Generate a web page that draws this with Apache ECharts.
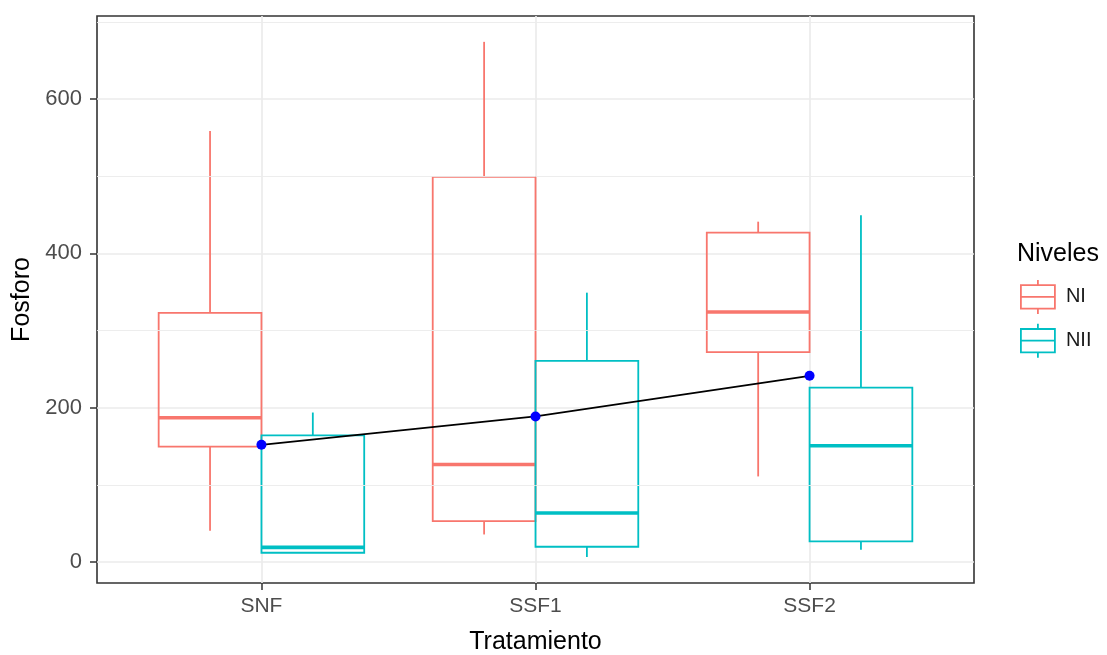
<!DOCTYPE html>
<html>
<head>
<meta charset="utf-8">
<script src="https://cdn.jsdelivr.net/npm/echarts@6/dist/echarts.min.js"></script>
<style>
  html, body { margin: 0; padding: 0; background: #fff; }
  #grafico { width: 1107px; height: 655px; }
</style>
</head>
<body>
<div id="grafico"></div>
<script>
// categorias del eje x
var categorias = ["SNF", "SSF1", "SSF2"];

// nivel NI (min, q1, mediana, q3, max)
var niMin = [40.5, 35.7, 110.9];
var niQ1 = [149.5, 53, 272];
var niMed = [187, 126.4, 324];
var niQ3 = [322.8, 499, 426.8];
var niMax = [558.5, 674, 441];

// nivel NII
var niiMin = [12, 6.5, 16];
var niiQ1 = [12, 19.8, 26.7];
var niiMed = [19, 63.5, 150.6];
var niiQ3 = [164, 260.6, 226];
var niiMax = [193.7, 349, 449.4];

// linea de medias
var medias = [151.9, 188.6, 241.3];

var yTicks = [0, 200, 400, 600];
var yMenores = [100, 300, 500, 700];

var colorNI = "#F8766D";
var colorNII = "#00BFC4";
var fuente = "Liberation Sans, Arial, sans-serif";

function armarCajas(mins, q1s, meds, q3s, maxs) {
  return categorias.map(function (c, i) {
    return [i + 1, mins[i], q1s[i], meds[i], q3s[i], maxs[i]];
  });
}

function dibujarCaja(desplazamiento, color) {
  var medio = 0.1875;
  return function (params, api) {
    var x = api.value(0) + desplazamiento;
    var pMin = api.coord([x, api.value(1)]);
    var pQ1 = api.coord([x, api.value(2)]);
    var pMed = api.coord([x, api.value(3)]);
    var pQ3 = api.coord([x, api.value(4)]);
    var pMax = api.coord([x, api.value(5)]);
    var izq = api.coord([x - medio, 0])[0];
    var der = api.coord([x + medio, 0])[0];
    var estilo = { stroke: color, lineWidth: 1.8, fill: null };
    return {
      type: "group",
      children: [
        { type: "line", shape: { x1: pMin[0], y1: pMin[1], x2: pQ1[0], y2: pQ1[1] }, style: estilo },
        { type: "line", shape: { x1: pQ3[0], y1: pQ3[1], x2: pMax[0], y2: pMax[1] }, style: estilo },
        { type: "rect", shape: { x: izq, y: pQ3[1], width: der - izq, height: pQ1[1] - pQ3[1] }, style: estilo },
        { type: "line", shape: { x1: izq, y1: pMed[1], x2: der, y2: pMed[1] }, style: { stroke: color, lineWidth: 3.6 } }
      ]
    };
  };
}

var iconoCaja = "path://M17,0 L17,5.3 M0,5.3 L34,5.3 L34,28.7 L0,28.7 Z M0,17 L34,17 M17,28.7 L17,34";

var grafico = echarts.init(document.getElementById("grafico"));

var option = {
  animation: false,
  textStyle: { fontFamily: fuente },
  title: {
    text: "Niveles",
    left: 1017,
    top: 242,
    padding: 0,
    textStyle: { fontFamily: fuente, fontSize: 25, fontWeight: "normal", color: "#000" }
  },
  legend: {
    orient: "vertical",
    left: 1020,
    top: 279,
    padding: 0,
    itemWidth: 34,
    itemHeight: 34,
    itemGap: 8,
    textStyle: { fontFamily: fuente, fontSize: 20, color: "#1a1a1a", padding: [0, 0, 0, 6] },
    data: [
      { name: "NI", icon: iconoCaja, itemStyle: { color: "rgba(0,0,0,0)", borderColor: colorNI, borderWidth: 1.8 } },
      { name: "NII", icon: iconoCaja, itemStyle: { color: "rgba(0,0,0,0)", borderColor: colorNII, borderWidth: 1.8 } }
    ]
  },
  grid: {
    left: 97,
    top: 16,
    right: 133,
    bottom: 72,
    outerBoundsMode: "none",
    containLabel: false,
    show: true,
    borderColor: "#333333",
    borderWidth: 1.6,
    backgroundColor: "#fff"
  },
  xAxis: {
    type: "value",
    min: 0.4,
    max: 3.6,
    name: "Tratamiento",
    nameLocation: "middle",
    nameGap: 47,
    nameTextStyle: { fontFamily: fuente, fontSize: 25, color: "#000" },
    axisLine: { show: false, onZero: false },
    axisTick: { show: true, customValues: [1, 2, 3], length: 7, lineStyle: { color: "#333333", width: 1.5 } },
    axisLabel: {
      customValues: [1, 2, 3],
      margin: 13,
      fontSize: 21,
      color: "#4D4D4D",
      formatter: function (v) { return categorias[Math.round(v) - 1] || ""; }
    },
    splitLine: { show: true, lineStyle: { color: "#EBEBEB", width: 1.7 } }
  },
  yAxis: {
    type: "value",
    min: -27.2,
    max: 707.5,
    name: "Fosforo",
    nameLocation: "middle",
    nameGap: 61,
    nameTextStyle: { fontFamily: fuente, fontSize: 25, color: "#000" },
    axisLine: { show: false, onZero: false },
    axisTick: { show: true, customValues: yTicks, length: 7, lineStyle: { color: "#333333", width: 1.5 } },
    axisLabel: { customValues: yTicks, margin: 15, fontSize: 22, color: "#4D4D4D" },
    splitLine: { show: true, lineStyle: { color: "#EBEBEB", width: 1.7 } }
  },
  series: [
    {
      // lineas menores de la grilla
      type: "line",
      data: [],
      z: 1,
      silent: true,
      markLine: {
        silent: true,
        symbol: "none",
        label: { show: false },
        lineStyle: { color: "#EBEBEB", width: 0.9, type: "solid" },
        data: yMenores.map(function (v) { return { yAxis: v }; })
      }
    },
    {
      name: "NI",
      type: "custom",
      z: 2,
      itemStyle: { color: colorNI },
      encode: { x: 0, y: [1, 2, 3, 4, 5] },
      renderItem: dibujarCaja(-0.1875, colorNI),
      data: armarCajas(niMin, niQ1, niMed, niQ3, niMax)
    },
    {
      name: "NII",
      type: "custom",
      z: 2,
      itemStyle: { color: colorNII },
      encode: { x: 0, y: [1, 2, 3, 4, 5] },
      renderItem: dibujarCaja(0.1875, colorNII),
      data: armarCajas(niiMin, niiQ1, niiMed, niiQ3, niiMax)
    },
    {
      name: "media",
      type: "line",
      z: 5,
      symbol: "circle",
      symbolSize: 10,
      itemStyle: { color: "#0000FF" },
      lineStyle: { color: "#000", width: 1.7 },
      data: medias.map(function (v, i) { return [i + 1, v]; })
    }
  ]
};

grafico.setOption(option);
</script>
</body>
</html>
